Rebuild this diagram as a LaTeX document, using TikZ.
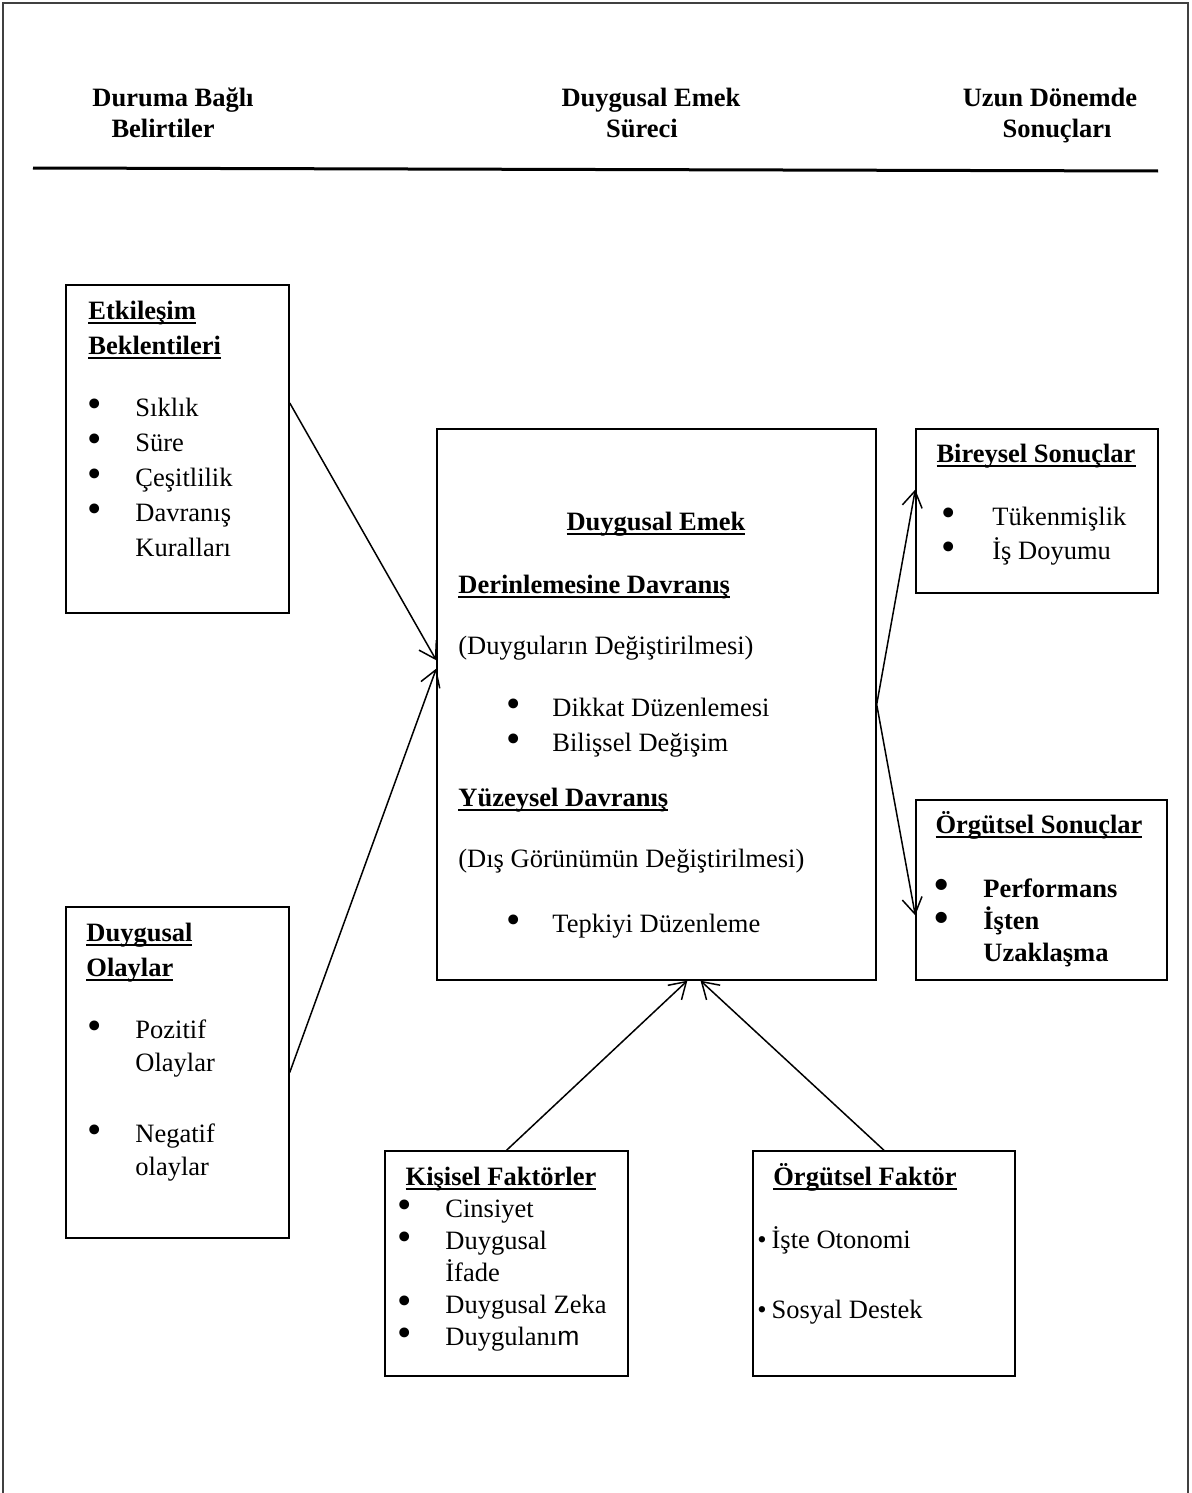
\documentclass[tikz,border=0pt]{standalone}
\usepackage{fontspec}
\setmainfont{Liberation Serif}
\newfontfamily\arialfont{Liberation Sans}
\usepackage{tikz}
\usetikzlibrary{arrows.meta, positioning, calc, fit}

\newcommand{\ulbf}[1]{\setbox0\hbox{\textbf{#1}}\rlap{\rule[-2.4pt]{\wd0}{0.9pt}}\box0}
\newcommand{\blt}[1]{\makebox[#1][l]{\raisebox{-0.9pt}[0pt][0pt]{\scalebox{1.55}{•}}}}

\begin{document}
\begin{tikzpicture}[x=0.5pt, y=-0.5pt,
  box/.style={draw, line width=0.7pt, inner sep=0pt},
  txt/.style={inner sep=0pt, anchor=base west, font=\fontsize{13.25}{17.5}\selectfont},
  head/.style={inner sep=0pt, anchor=base, font=\bfseries\fontsize{13.25}{17.5}\selectfont},
  arr/.style={-{Straight Barb[length=8pt,width=10pt]}, line width=0.75pt}]
  \useasboundingbox (0,0) rectangle (1191,1493);
  % page frame and header rule
  \draw[line width=1pt, black!75] (3,1493) -- (3,3) -- (1188,3) -- (1188,1493);
  \draw[line width=1.5pt] (33,168) -- (1158,171);
  % column headings
  \node[head] (h1a) at (173,107) {Duruma Bağlı};
  \node[head] (h1b) at (163,137) {Belirtiler};
  \node[head] (h2a) at (651,107) {Duygusal Emek};
  \node[head] (h2b) at (642,137) {Süreci};
  \node[head] (h3a) at (1050,107) {Uzun Dönemde};
  \node[head] (h3b) at (1057,137) {Sonuçları};
  % boxes
  \node[box, fit={(66,285) (289,613)}] (etk) {};
  \node[box, fit={(66,907) (289,1238)}] (olay) {};
  \node[box, fit={(437,429) (876,980)}] (emek) {};
  \node[box, fit={(916,429) (1158,593)}] (birey) {};
  \node[box, fit={(916,800) (1167,980)}] (orgs) {};
  \node[box, fit={(385,1151) (628,1376)}] (kis) {};
  \node[box, fit={(753,1151) (1015,1376)}] (orgf) {};
  % Etkilesim Beklentileri
  \node[txt] (etkT) at (88,319) {\begin{tabular}[t]{@{}l@{}}\ulbf{Etkileşim}\\ \ulbf{Beklentileri}\end{tabular}};
  \node[txt] (etkL) at (87,416) {\begin{tabular}[t]{@{}l@{}}\blt{24pt}Sıklık\\ \blt{24pt}Süre\\ \blt{24pt}Çeşitlilik\\ \blt{24pt}Davranış\\ \hspace*{24pt}Kuralları\end{tabular}};
  % Duygusal Olaylar
  \node[txt] (olayT) at (86,941) {\begin{tabular}[t]{@{}l@{}}\ulbf{Duygusal}\\ \ulbf{Olaylar}\end{tabular}};
  \node[txt, font=\fontsize{13.25}{16.5}\selectfont] (olayA) at (87,1038) {\begin{tabular}[t]{@{}l@{}}\blt{24pt}Pozitif\\ \hspace*{24pt}Olaylar\end{tabular}};
  \node[txt, font=\fontsize{13.25}{16.5}\selectfont] (olayB) at (87,1142) {\begin{tabular}[t]{@{}l@{}}\blt{24pt}Negatif\\ \hspace*{24pt}olaylar\end{tabular}};
  % Duygusal Emek
  \node[head] (emekT) at (656,530) {\ulbf{Duygusal Emek}};
  \node[txt] (derinT) at (458,593) {\ulbf{Derinlemesine Davranış}};
  \node[txt] (derinA) at (458,654) {(Duyguların Değiştirilmesi)};
  \node[txt] (derinL) at (506,716) {\begin{tabular}[t]{@{}l@{}}\blt{23pt}Dikkat Düzenlemesi\\ \blt{23pt}Bilişsel Değişim\end{tabular}};
  \node[txt] (yuzT) at (458,806) {\ulbf{Yüzeysel Davranış}};
  \node[txt] (yuzA) at (458,867) {(Dış Görünümün Değiştirilmesi)};
  \node[txt] (yuzL) at (506,932) {\blt{23pt}Tepkiyi Düzenleme};
  % Bireysel Sonuclar
  \node[head] (bireyT) at (1036,462) {\ulbf{Bireysel Sonuçlar}};
  \node[txt, font=\fontsize{13.25}{17}\selectfont] (bireyL) at (941,525) {\begin{tabular}[t]{@{}l@{}}\blt{25.5pt}Tükenmişlik\\ \blt{25.5pt}İş Doyumu\end{tabular}};
  % Orgutsel Sonuclar
  \node[head] (orgsT) at (1039,833) {\ulbf{Örgütsel Sonuçlar}};
  \node[txt, font=\bfseries\fontsize{13.25}{16}\selectfont] (orgsL) at (934,897) {\begin{tabular}[t]{@{}l@{}}\blt{24.5pt}Performans\\ \blt{24.5pt}İşten\\ \hspace*{24.5pt}Uzaklaşma\end{tabular}};
  % Kisisel Faktorler
  \node[head] (kisT) at (501,1185) {\ulbf{Kişisel Faktörler}};
  \node[txt, font=\fontsize{13.25}{16}\selectfont] (kisL) at (397,1217) {\begin{tabular}[t]{@{}l@{}}\blt{24pt}Cinsiyet\\ \blt{24pt}Duygusal\\ \hspace*{24pt}İfade\\ \blt{24pt}Duygusal Zeka\\ \blt{24pt}Duygulanı{\arialfont m}\end{tabular}};
  % Orgutsel Faktor
  \node[head] (orgfT) at (865,1185) {\ulbf{Örgütsel Faktör}};
  \node[txt] (orgfA) at (757,1248) {•\hspace{2.5pt}İşte Otonomi};
  \node[txt] (orgfB) at (757,1318) {•\hspace{2.5pt}Sosyal Destek};
  % connectors
  \draw[arr] ($(etk.north east)!0.36!(etk.south east)$) -- ($(emek.north west)!0.42!(emek.south west)$);
  \draw[arr] (olay.east) -- ($(emek.north west)!0.435!(emek.south west)$);
  \draw[arr] (emek.east) -- ($(birey.north west)!0.37!(birey.south west)$);
  \draw[arr] (emek.east) -- ($(orgs.north west)!0.64!(orgs.south west)$);
  \draw[arr] (kis.north) -- ($(emek.south west)!0.57!(emek.south east)$);
  \draw[arr] (orgf.north) -- ($(emek.south west)!0.6!(emek.south east)$);
\end{tikzpicture}
\end{document}
